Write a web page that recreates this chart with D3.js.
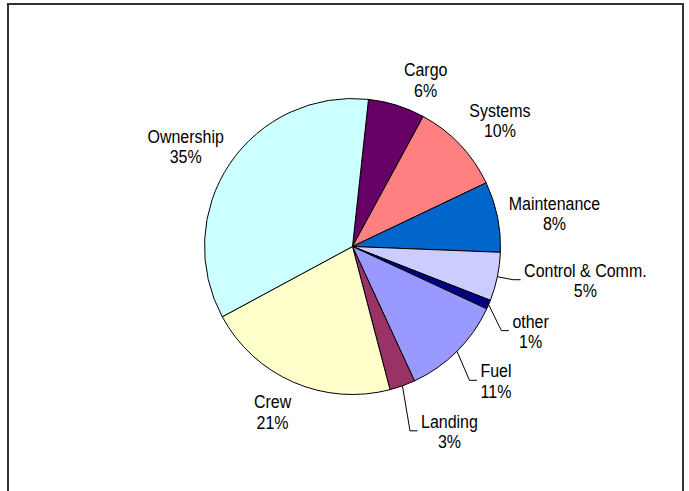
<!DOCTYPE html>
<html>
<head>
<meta charset="utf-8">
<script src="https://cdn.jsdelivr.net/npm/d3@7"></script>
<style>
  html, body { margin: 0; padding: 0; background: #fff; }
  svg { display: block; }
</style>
</head>
<body>
<div id="container"></div>
<script>
const width = 689, height = 491;

// --- Data (shares in %) ---
const categories = ["Cargo", "Systems", "Maintenance", "Control & Comm.", "other", "Fuel", "Landing", "Crew", "Ownership"];
const shares = [6.2, 10.0, 7.7, 5.3, 1.0, 11.2, 2.8, 21.2, 34.6];
const colors = ["#660066", "#ff8080", "#0066cc", "#ccccff", "#000080", "#9999ff", "#993366", "#ffffcc", "#ccffff"];
const hasLeader = [false, false, false, true, true, true, true, false, false];

// label placement: offset of the first baseline from the slice's outer-edge midpoint
const labelNudge = [[29, -29], [40, -28], [57, -7], [88, 0], [42, 23], [39, 26], [47, 42], [-21, 26], [-44, -21]];

const cx = 352.5, cy = 246.5, radius = 148;
const start = 6.2 * Math.PI / 180;
const fontSize = 16, lineGap = 20.5, stretch = 1.12;

const svg = d3.select("#container")
  .append("svg").attr("width", width).attr("height", height)
  .style("font-family", "'Liberation Sans', Arial, sans-serif");

// --- Chart frame (open at the bottom) ---
svg.append("path")
  .attr("d", `M8,${height} V4 H683 V${height}`)
  .attr("fill", "none")
  .attr("stroke", "#333")
  .attr("stroke-width", 2);

const g = svg.append("g").attr("transform", `translate(${cx},${cy})`);

const pie = d3.pie().sort(null).value((d) => d)
  .startAngle(start).endAngle(start + 2 * Math.PI);
const arcs = pie(shares);

const arc = d3.arc().innerRadius(0).outerRadius(radius);
const edge = d3.arc().innerRadius(radius).outerRadius(radius);
const total = d3.sum(shares);
const pct = d3.format(".0%");

// --- Slices ---
g.selectAll(".slice").data(arcs).join("path")
  .attr("class", "slice")
  .attr("d", arc)
  .attr("fill", (d, i) => colors[i])
  .attr("stroke", "#000")
  .attr("stroke-width", 1)
  .attr("stroke-linejoin", "round");

// --- Labels + leader lines ---
arcs.forEach((d, i) => {
  const [ex, ey] = edge.centroid(d);
  const lx = ex + labelNudge[i][0];
  const ly = ey + labelNudge[i][1];
  // text in the original is drawn slightly taller than Arial, so stretch it vertically
  const txt = g.append("text")
    .attr("transform", `translate(${lx},${ly}) scale(1,${stretch})`)
    .attr("text-anchor", "middle")
    .attr("fill", "#000")
    .style("font-size", fontSize + "px");
  const t1 = txt.append("tspan").attr("x", 0).attr("y", 0).text(categories[i]);
  const t2 = txt.append("tspan").attr("x", 0).attr("y", lineGap / stretch).text(pct(d.value / total));

  if (hasLeader[i]) {
    const w = Math.max(t1.node().getComputedTextLength(), t2.node().getComputedTextLength());
    const left = lx - w / 2;
    const yl = ly + 3;
    g.insert("path", "text")
      .attr("d", `M${ex},${ey} L${left - 11},${yl} L${left - 3.5},${yl}`)
      .attr("fill", "none")
      .attr("stroke", "#000")
      .attr("stroke-width", 1);
  }
});
</script>
</body>
</html>
